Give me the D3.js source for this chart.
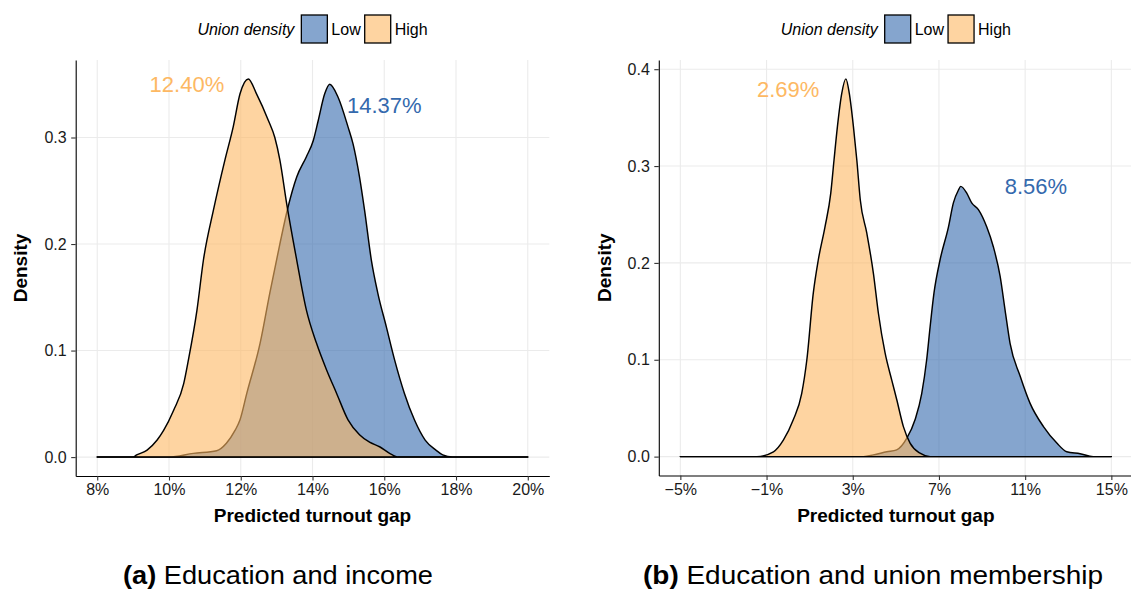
<!DOCTYPE html>
<html>
<head>
<meta charset="utf-8">
<script src="https://cdn.jsdelivr.net/npm/d3@7"></script>
<style>
body { margin: 0; background: #fff; }
svg text { font-family: "Liberation Sans", Arial, Helvetica, sans-serif; }
</style>
</head>
<body>
<svg id="chart" width="1131" height="590"></svg>
<script>
// legend groups and colours
let groups = ["Low", "High"];
let groupColors = ["#3469ad", "#fdb863"];

// (a) education and income: predicted turnout gap (%) vs density
let xTicksA = [8, 10, 12, 14, 16, 18, 20];
let yTicksA = [0, 0.1, 0.2, 0.3];
let lowA = [[8, 0], [10.0, 0], [10.68, 0.0035], [11.33, 0.006], [11.6, 0.013], [11.84, 0.025], [11.98, 0.035],
  [12.17, 0.060], [12.54, 0.107], [12.81, 0.154], [13.09, 0.200], [13.32, 0.235], [13.56, 0.263], [13.83, 0.282],
  [14.02, 0.297], [14.16, 0.316], [14.34, 0.341], [14.48, 0.350], [14.71, 0.338], [14.99, 0.310], [15.13, 0.294],
  [15.31, 0.263], [15.45, 0.232], [15.64, 0.185], [15.82, 0.154], [16.06, 0.122], [16.29, 0.091], [16.56, 0.060],
  [16.84, 0.035], [17.14, 0.016], [17.44, 0.0066], [17.63, 0.002], [17.9, 0], [20, 0]];
let highA = [[8, 0], [9.0, 0], [9.1, 0.002], [9.39, 0.0066], [9.67, 0.016], [9.85, 0.025], [10.13, 0.044],
  [10.41, 0.069], [10.54, 0.091], [10.78, 0.138], [10.96, 0.185], [11.24, 0.232], [11.56, 0.279], [11.79, 0.310],
  [11.98, 0.341], [12.21, 0.355], [12.44, 0.341], [12.77, 0.316], [12.95, 0.300], [13.09, 0.279], [13.28, 0.238],
  [13.56, 0.185], [13.83, 0.138], [14.11, 0.107], [14.39, 0.082], [14.67, 0.060], [14.99, 0.035], [15.31, 0.021],
  [15.59, 0.014], [15.87, 0.0097], [16.15, 0.0035], [16.4, 0], [20, 0]];
let labelsA = [
  { text: "12.40%", x: 10.5, y: 0.350, group: "High" },
  { text: "14.37%", x: 16.0, y: 0.330, group: "Low" }
];

// (b) education and union membership
let xTicksB = [-5, -1, 3, 7, 11, 15];
let yTicksB = [0, 0.1, 0.2, 0.3, 0.4];
let lowB = [[-5, 0], [3.5, 0], [3.96, 0.0018], [4.58, 0.005], [5.04, 0.007], [5.51, 0.019], [5.89, 0.038],
  [6.20, 0.065], [6.43, 0.100], [6.59, 0.134], [6.77, 0.169], [7.05, 0.203], [7.44, 0.237], [7.67, 0.262],
  [7.90, 0.275], [8.01, 0.279], [8.29, 0.272], [8.52, 0.262], [8.83, 0.255], [9.22, 0.237], [9.52, 0.217],
  [9.84, 0.186], [10.07, 0.151], [10.30, 0.117], [10.77, 0.083], [11.23, 0.055], [11.85, 0.031], [12.47, 0.014],
  [12.93, 0.005], [13.55, 0.003], [14.16, 0], [15, 0]];
let highB = [[-5, 0], [-1.45, 0], [-0.68, 0.005], [-0.22, 0.017], [0.24, 0.038], [0.63, 0.065], [0.87, 0.100],
  [1.17, 0.169], [1.40, 0.203], [1.71, 0.237], [1.98, 0.272], [2.13, 0.306], [2.29, 0.341], [2.49, 0.375],
  [2.68, 0.390], [2.84, 0.375], [3.03, 0.341], [3.19, 0.306], [3.35, 0.265], [3.65, 0.231], [3.96, 0.189],
  [4.19, 0.148], [4.50, 0.107], [4.81, 0.079], [5.04, 0.059], [5.35, 0.031], [5.66, 0.014], [6.12, 0.0035],
  [6.59, 0], [15, 0]];
let labelsB = [
  { text: "2.69%", x: 0.0, y: 0.379, group: "High" },
  { text: "8.56%", x: 11.5, y: 0.279, group: "Low" }
];

let svg = d3.select("#chart");
let color = d3.scaleOrdinal().domain(groups).range(groupColors);
let fillAlpha = 0.6;

function drawPanel(p) {
  let g = svg.append("g");
  let xExt = d3.extent(p.xTicks), xPad = (xExt[1] - xExt[0]) * 0.05;
  let x = d3.scaleLinear().domain([xExt[0] - xPad, xExt[1] + xPad]).range([p.left, p.right]);
  let ymax = d3.max([p.low, p.high], c => d3.max(c, d => d[1]));
  let y = d3.scaleLinear().domain([-ymax * 0.05, ymax * 1.05]).range([p.bottom, p.top]);

  // grid
  g.selectAll(".gx").data(p.xTicks).enter().append("line")
    .attr("x1", d => x(d)).attr("x2", d => x(d))
    .attr("y1", p.top).attr("y2", p.bottom)
    .attr("stroke", "#ebebeb").attr("stroke-width", 1.1);
  g.selectAll(".gy").data(p.yTicks).enter().append("line")
    .attr("x1", p.left).attr("x2", p.right)
    .attr("y1", d => y(d)).attr("y2", d => y(d))
    .attr("stroke", "#ebebeb").attr("stroke-width", 1.1);

  // densities, low first then high on top
  let area = d3.area()
    .x(d => x(d[0]))
    .y0(y(0))
    .y1(d => y(d[1]))
    .curve(d3.curveMonotoneX);
  [["Low", p.low], ["High", p.high]].forEach(s => {
    g.append("path")
      .attr("d", area(s[1]) )
      .attr("fill", color(s[0]))
      .attr("fill-opacity", fillAlpha)
      .attr("stroke", "none");
    g.append("path")
      .attr("d", area(s[1]) + "Z")
      .attr("fill", "none")
      .attr("stroke", "#000")
      .attr("stroke-width", 1.45)
      .attr("stroke-linejoin", "round");
  });

  // value labels
  g.selectAll(".lab").data(p.labels).enter().append("text")
    .attr("x", d => x(d.x))
    .attr("y", d => y(d.y))
    .attr("dy", "0.35em")
    .attr("text-anchor", "middle")
    .attr("font-size", 22)
    .attr("fill", d => color(d.group))
    .text(d => d.text);

  // axes
  let fmt = d3.format("d");
  let xAxis = g.append("g")
    .attr("transform", "translate(0," + p.bottom + ")")
    .call(d3.axisBottom(x).tickValues(p.xTicks).tickSize(4.5).tickSizeOuter(0).tickPadding(3.5)
      .tickFormat(d => fmt(d) + "%"));
  let yAxis = g.append("g")
    .attr("transform", "translate(" + p.left + ",0)")
    .call(d3.axisLeft(y).tickValues(p.yTicks).tickSize(4.5).tickSizeOuter(0).tickPadding(4.5)
      .tickFormat(d3.format(".1f")));
  [xAxis, yAxis].forEach(a => {
    a.attr("font-family", null).attr("font-size", null);
    a.select(".domain").attr("stroke", "#000").attr("stroke-width", 1.1);
    a.selectAll(".tick line").attr("stroke", "#333").attr("stroke-width", 1.1);
    a.selectAll(".tick text").attr("font-size", 16).attr("fill", "#1a1a1a");
  });

  // axis titles
  g.append("text")
    .attr("x", (p.left + p.right) / 2)
    .attr("y", 522)
    .attr("text-anchor", "middle")
    .attr("font-size", 19)
    .attr("font-weight", "bold")
    .text("Predicted turnout gap");
  g.append("text")
    .attr("transform", "translate(" + p.yTitleX + "," + ((p.top + p.bottom) / 2) + ") rotate(-90)")
    .attr("text-anchor", "middle")
    .attr("font-size", 19)
    .attr("font-weight", "bold")
    .text("Density");

  // legend, centred over the panel
  let leg = g.append("g");
  let title = leg.append("text").attr("y", 35).attr("font-size", 16)
    .attr("font-style", "italic").text("Union density");
  let cx = title.node().getComputedTextLength() + 7;
  groups.forEach(k => {
    leg.append("rect")
      .attr("x", cx).attr("y", 15).attr("width", 26).attr("height", 28)
      .attr("fill", color(k)).attr("fill-opacity", fillAlpha)
      .attr("stroke", "#000").attr("stroke-width", 1.3);
    cx += 30;
    let t = leg.append("text").attr("x", cx).attr("y", 35).attr("font-size", 16).text(k);
    cx += t.node().getComputedTextLength() + 4;
  });
  let legW = cx - 4;
  leg.attr("transform", "translate(" + ((p.left + p.right) / 2 - legW / 2) + ",0)");

  // caption
  svg.append("text")
    .attr("x", p.capX)
    .attr("y", 584)
    .attr("font-family", "Lato, 'Open Sans', sans-serif")
    .attr("font-size", 26)
    .attr("textLength", p.capW)
    .attr("lengthAdjust", "spacingAndGlyphs")
    .call(t => {
      t.append("tspan").attr("font-weight", "bold").text(p.capTag);
      t.append("tspan").text(" " + p.capText);
    });
}

drawPanel({
  xTicks: xTicksA, yTicks: yTicksA, low: lowA, high: highA, labels: labelsA,
  left: 75.7, right: 549.3, top: 60, bottom: 476, yTitleX: 26.5,
  capX: 123, capW: 310, capTag: "(a)", capText: "Education and income"
});
drawPanel({
  xTicks: xTicksB, yTicks: yTicksB, low: lowB, high: highB, labels: labelsB,
  left: 658.8, right: 1132.9, top: 60, bottom: 475.5, yTitleX: 610.5,
  capX: 643, capW: 460, capTag: "(b)", capText: "Education and union membership"
});
</script>
</body>
</html>
